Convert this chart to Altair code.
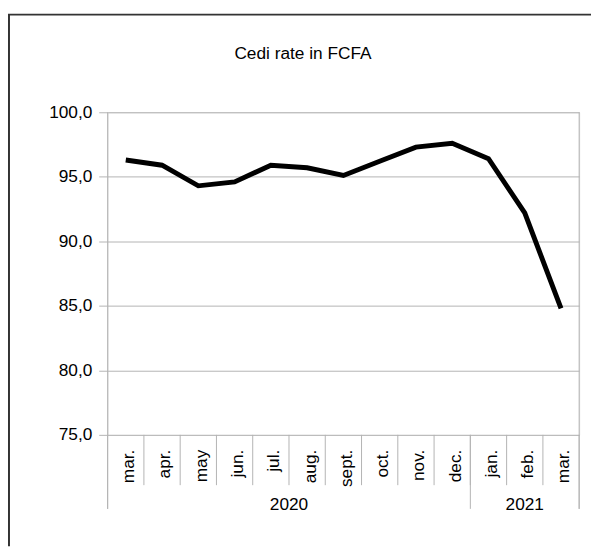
import altair as alt
import pandas as pd

# ---- data ----
months = ["mar.", "apr.", "may", "jun.", "jul.", "aug.", "sept.", "oct.", "nov.",
          "dec.", "jan.", "feb.", "mar."]
years = ["2020"] * 10 + ["2021"] * 3
rates = [96.3, 95.9, 94.3, 94.6, 95.9, 95.7, 95.1, 96.2, 97.3, 97.6, 96.4, 92.2, 84.8]
y_ticks = [75, 80, 85, 90, 95, 100]
title_text = ["Cedi rate in FCFA"]

# ---- styling ----
W, H = 478, 327
FONT = "Liberation Sans"
FS = 17.5
GRID = "#b3b3b3"
FRAME = "#333333"

df = pd.DataFrame({"idx": list(range(len(months))), "month": months,
                   "year": years, "rate": rates})
year_df = df.groupby("year", as_index=False).agg(
    center=("idx", "mean"), first=("idx", "min"), last=("idx", "max"))
month_bounds = pd.DataFrame({"pos": [i + 0.5 for i in range(len(months) - 1)]})
year_bounds = pd.DataFrame({"pos": sorted(set(
    [f - 0.5 for f in year_df["first"]] + [l + 0.5 for l in year_df["last"]]))})
edges = pd.DataFrame({"pos": [-0.5, len(months) - 0.5]})
one = pd.DataFrame({"frame": [0]})
title_df = pd.DataFrame({"title": title_text})

xscale = alt.Scale(domain=[-0.5, len(months) - 0.5], nice=False, zero=False)


def xpos(field):
    return alt.X(field, type="quantitative", scale=xscale, axis=None)


line = alt.Chart(df).mark_line(color="black", strokeWidth=5).encode(
    x=xpos("idx"),
    y=alt.Y("rate:Q",
            scale=alt.Scale(domain=[75, 100], nice=False, zero=False),
            axis=alt.Axis(values=y_ticks, title=None, grid=True, gridColor=GRID,
                          domain=False, tickColor=GRID, tickSize=9, labelPadding=7,
                          labelFontSize=FS, labelFont=FONT, labelColor="black",
                          labelExpr="replace(format(datum.value, '.1f'), '.', ',')")),
)

edge_rules = alt.Chart(edges).mark_rule(color=GRID, strokeWidth=1).encode(
    x=xpos("pos"), y=alt.value(0), y2=alt.value(H + 75))
month_rules = alt.Chart(month_bounds).mark_rule(color=GRID, strokeWidth=1).encode(
    x=xpos("pos"), y=alt.value(H), y2=alt.value(H + 51))
year_rules = alt.Chart(year_bounds).mark_rule(color=GRID, strokeWidth=1).encode(
    x=xpos("pos"), y=alt.value(H), y2=alt.value(H + 75))

month_labels = alt.Chart(df).mark_text(
    angle=270, align="right", baseline="alphabetic", dy=8.5,
    font=FONT, fontSize=FS, color="black").encode(
    x=xpos("idx"), y=alt.value(H + 15), text="month:N")

year_labels = alt.Chart(year_df).mark_text(
    align="center", baseline="alphabetic",
    font=FONT, fontSize=FS, color="black").encode(
    x=xpos("center"), y=alt.value(H + 76), text="year:N")

title_mark = alt.Chart(title_df).mark_text(
    align="center", baseline="alphabetic",
    font=FONT, fontSize=FS, color="black").encode(
    x=alt.value(198), y=alt.value(-54), text="title:N")

frame_top = alt.Chart(one).mark_rule(color=FRAME, strokeWidth=2).encode(
    x=alt.value(-101), x2=alt.value(W + 12), y=alt.value(-99))
frame_left = alt.Chart(one).mark_rule(color=FRAME, strokeWidth=2).encode(
    x=alt.value(-100), y=alt.value(-99), y2=alt.value(H + 113))

chart = alt.layer(
    edge_rules, month_rules, year_rules, line, month_labels, year_labels,
    title_mark, frame_top, frame_left,
).properties(
    width=W, height=H,
    padding={"left": 101, "top": 102, "right": 12, "bottom": 113},
    autosize=alt.AutoSizeParams(type="none"),
).configure_view(stroke=None).configure(background="white")

chart.save("out.html", embed_options={"renderer": "svg", "actions": False})
